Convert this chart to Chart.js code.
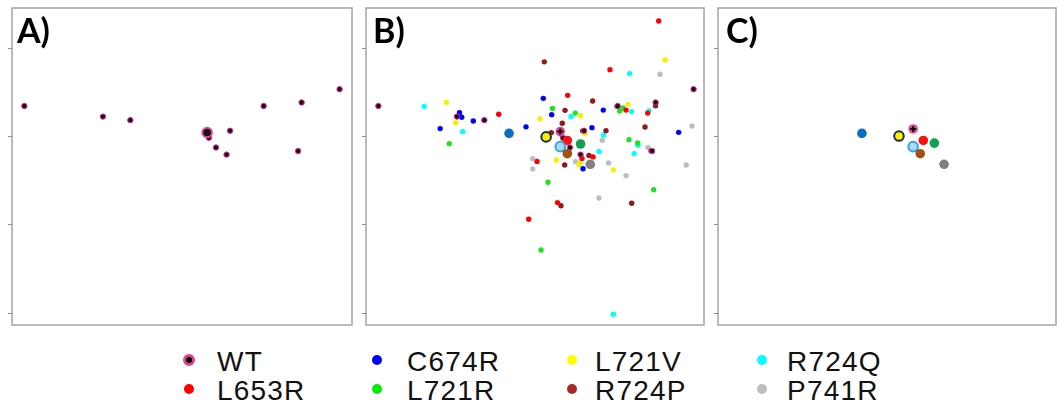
<!DOCTYPE html>
<html><head><meta charset="utf-8">
<script src="https://cdn.jsdelivr.net/npm/chart.js@4"></script>
<style>
body{margin:0;background:#fff;width:1057px;height:412px;position:relative;overflow:hidden;}
canvas{position:absolute;top:0;}
.lab{position:absolute;top:13px;font:700 34px Lato, "Open Sans", sans-serif;line-height:34px;color:#000;}
.leg{position:absolute;font:28px "Liberation Sans", Arial, sans-serif;line-height:28px;color:#111;white-space:nowrap;letter-spacing:1.2px;}
.dot{position:absolute;border-radius:50%;box-sizing:border-box;}
</style></head><body>
<canvas id="cA" width="360" height="335" style="left:2px"></canvas>
<canvas id="cB" width="358" height="335" style="left:356px"></canvas>
<canvas id="cC" width="358" height="335" style="left:708px"></canvas>
<div class="lab" style="left:17px">A)</div>
<div class="lab" style="left:373px">B)</div>
<div class="lab" style="left:726px">C)</div>
<div id="legend"></div>
<script>
// ---- data (axis units; y ticks at -2..1) ----
const yTicks = [-2, -1, 0, 1];
const legendNames  = ['WT', 'L653R', 'C674R', 'L721R', 'L721V', 'R724P', 'R724Q', 'P741R'];
const legendColors = ['#e0409a', '#ff0000', '#0000ff', '#00ee00', '#ffff00', '#a52a2a', '#00ffff', '#bebebe'];

// WT replicates (panels A and B)
const WT = [[-2.06,0.34],[-1.17,0.22],[-0.86,0.18],[0.03,-0.02],[0.11,-0.13],[0.23,-0.21],[0.27,0.06],[0.65,0.34],[1.08,0.38],[1.04,-0.17],[1.51,0.53]];
const WT_mean_A = [[0.01,0.04]];

// mutant replicates (panel B)
const L653R = [[1.115,1.302],[0.563,0.752],[0.084,0.461],[-0.697,0.246],[0.745,0.294],[0.990,0.260],[-0.263,-0.287],[0.246,-0.253],[0.371,-0.236],[-0.031,-0.754],[-0.357,-0.943]];
const C674R = [[-0.192,0.427],[0.487,0.294],[-0.097,0.242],[-0.388,0.104],[0.359,0.095],[1.341,0.042],[0.258,-0.371],[-1.141,0.263],[-1.116,0.212],[-0.985,0.170],[-1.360,0.084]];
const L721V = [[1.188,0.861],[0.767,0.359],[-0.229,0.195],[0.229,0.229],[0.280,0.025],[-0.045,-0.272],[0.224,-0.304],[0.212,-0.326],[0.601,-0.383],[-1.291,0.382],[-1.186,0.152]];
const L721R = [[0.711,0.317],[0.673,0.283],[-0.088,0.311],[0.170,0.260],[0.778,-0.041],[0.877,-0.079],[-0.139,-0.524],[1.058,-0.609],[-0.218,-1.291],[-1.257,-0.086]];
const R724Q = [[0.786,0.707],[0.807,0.277],[1.005,0.285],[0.122,0.221],[0.490,0.010],[0.439,-0.176],[0.837,-0.199],[0.880,-0.105],[0.601,-2.019],[-1.541,0.336],[-1.105,0.050]];
const P741R = [[1.130,0.699],[1.492,0.113],[0.476,-0.049],[0.994,-0.128],[0.173,-0.290],[-0.312,-0.256],[-0.312,-0.374],[0.546,-0.304],[0.745,-0.448],[1.426,-0.328],[0.439,-0.702]];
const R724P = [[-0.181,0.840],[0.367,0.396],[0.054,0.291],[0.023,0.144],[-0.101,0.039],[0.518,0.061],[0.960,0.102],[0.325,-0.221],[0.050,-0.328],[0.008,-0.790],[0.809,-0.762],[0.643,0.336],[1.079,0.342],[0.254,0.059],[1.028,-0.170]];

// group means: WT, C674R, L721V, L653R, L721R, R724Q, R724P, P741R
const meanNames  = ['WT','C674R','L721V','L653R','L721R','R724Q','R724P','P741R'];
const meanB_X = [0.00, -0.58, -0.16, 0.08, 0.23, 0.00, 0.08, 0.34];
const meanB_Y = [0.05, 0.03, -0.01, -0.05, -0.09, -0.12, -0.20, -0.32];
const meanC_X = [0.01, -0.57, -0.15, 0.125, 0.25, 0.01, 0.09, 0.36];
const meanC_Y = [0.08, 0.03, 0.00, -0.05, -0.08, -0.12, -0.20, -0.32];
const meanFill   = ['#e8489a','#0a6ebd','#ffee00','#ff1010','#10a050','#a8dcf5','#a0500f','#808080'];
const meanBorder = ['#e8489a','#0a6ebd','#1f2d50','#ff1010','#10a050','#35a4e0','#a0500f','#808080'];
const meanBW     = [0, 0, 2, 0, 0, 2, 0, 0];

const toPts = a => a.map(p => ({x: p[0], y: p[1]}));
const zipPts = (xs, ys) => xs.map((x, i) => ({x, y: ys[i]}));

const framePlugin = {
  id: 'frame',
  afterDraw(chart) {
    const {ctx, chartArea: a, scales: {y}} = chart;
    ctx.save();
    ctx.strokeStyle = '#a4a4a4';
    ctx.lineWidth = 1.5;
    ctx.strokeRect(a.left, a.top, a.right - a.left, a.bottom - a.top);
    ctx.strokeStyle = '#8c8c8c';
    ctx.lineWidth = 1;
    yTicks.forEach(v => {
      const py = Math.round(y.getPixelForValue(v)) + 0.5;
      ctx.beginPath(); ctx.moveTo(a.left - 4, py); ctx.lineTo(a.left, py); ctx.stroke();
    });
    ctx.restore();
  }
};

function smallSet(label, pts, color, order) {
  return {label, data: toPts(pts), pointRadius: 2.7, pointBackgroundColor: color,
          pointBorderWidth: 0, pointBorderColor: color, order: order || 3};
}
function wtSet(pts) {
  return {label: 'WT', data: toPts(pts), pointRadius: 2.7, pointBackgroundColor: '#2a0818',
          pointBorderColor: '#d83090', pointBorderWidth: 1, order: 2};
}
function meanSets(xs, ys) {
  return [
    {label: 'means', data: zipPts(xs, ys), pointRadius: 4.8, pointBackgroundColor: meanFill,
     pointBorderColor: meanBorder, pointBorderWidth: meanBW, order: 1},
    {label: 'WT mean centre', data: zipPts([xs[0]], [ys[0]]), pointStyle: 'cross', pointRadius: 3,
     pointBorderColor: '#000', pointBorderWidth: 2, order: 0}
  ];
}

function makePanel(id, plotWidth, datasets) {
  const unit = 88.3;
  new Chart(document.getElementById(id), {
    type: 'scatter',
    data: {datasets},
    options: {
      responsive: false, animation: false, events: [],
      layout: {padding: {left: 10, right: 10, top: 8, bottom: 10}},
      plugins: {legend: {display: false}, tooltip: {enabled: false}},
      scales: {
        x: {display: false, min: -2.2, max: -2.2 + plotWidth / unit},
        y: {display: false, min: -2.14, max: 1.45}
      }
    },
    plugins: [framePlugin]
  });
}

makePanel('cA', 340, [
  {label: 'WT mean', data: toPts(WT_mean_A), pointRadius: 4.8, pointBackgroundColor: '#111',
   pointBorderColor: '#e8489a', pointBorderWidth: 2, order: 1},
  wtSet(WT)
]);

makePanel('cB', 338, [
  ...meanSets(meanB_X, meanB_Y),
  wtSet(WT),
  smallSet('L653R', L653R, legendColors[1]),
  smallSet('C674R', C674R, legendColors[2]),
  smallSet('L721R', L721R, '#22e022'),
  smallSet('L721V', L721V, '#f4f000'),
  smallSet('R724P', R724P, '#8e1c1c'),
  smallSet('R724Q', R724Q, legendColors[6]),
  smallSet('P741R', P741R, legendColors[7], 4)
]);

makePanel('cC', 338, meanSets(meanC_X, meanC_Y));

// legend (HTML)
const legCols = [[189, 217], [377, 407], [572, 595], [762, 787]];
const legRows = [360, 389];
const leg = document.getElementById('legend');
legendNames.forEach((name, i) => {
  const col = legCols[Math.floor(i / 2)], rowY = legRows[i % 2];
  const d = document.createElement('div');
  d.className = 'dot';
  if (name === 'WT') {
    d.style.cssText = `left:${col[0]-6}px;top:${rowY-6}px;width:12px;height:12px;background:#000;border:3px solid ${legendColors[i]};`;
  } else {
    d.style.cssText = `left:${col[0]-5}px;top:${rowY-5}px;width:10px;height:10px;background:${legendColors[i]};`;
  }
  leg.appendChild(d);
  const t = document.createElement('div');
  t.className = 'leg';
  t.textContent = name;
  t.style.left = col[1] + 'px';
  t.style.top = (rowY - 12.5) + 'px';
  leg.appendChild(t);
});
</script>
</body></html>
